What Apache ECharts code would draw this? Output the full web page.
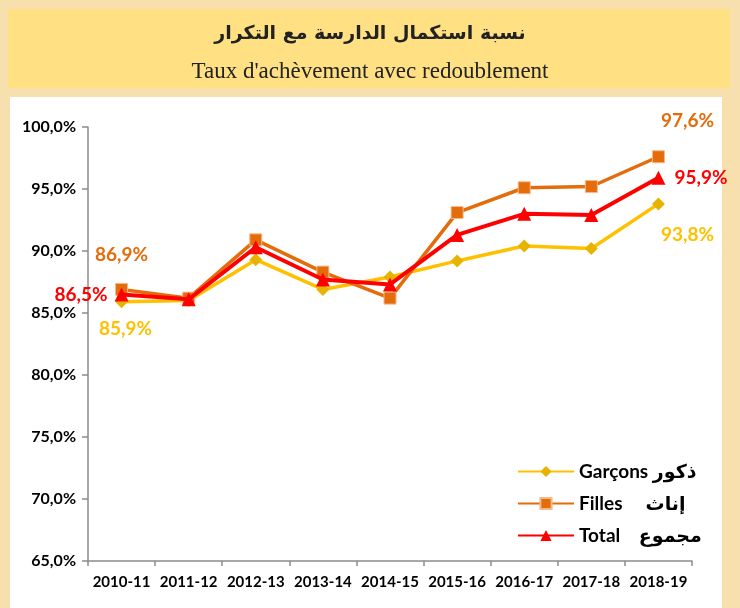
<!DOCTYPE html>
<html>
<head>
<meta charset="utf-8">
<title>Taux d'achèvement avec redoublement</title>
<script src="https://cdn.jsdelivr.net/npm/echarts@6/dist/echarts.min.js"></script>
<style>
  html, body { margin: 0; padding: 0; }
</style>
</head>
<body>
<div id="main" style="width:740px;height:608px;"></div>
<script type="text/javascript">
var years = ['2010-11', '2011-12', '2012-13', '2013-14', '2014-15', '2015-16', '2016-17', '2017-18', '2018-19'];
var garcons = [85.9, 86.0, 89.3, 86.9, 87.9, 89.2, 90.4, 90.2, 93.8];
var filles = [86.9, 86.2, 90.9, 88.3, 86.2, 93.1, 95.1, 95.2, 97.6];
var total = [86.5, 86.1, 90.3, 87.7, 87.3, 91.3, 93.0, 92.9, 95.9];

var fmt = function (v) { return v.toFixed(1).replace('.', ',') + '%'; };
var font = 'Lato, "DejaVu Sans", sans-serif';

// label only first and last point
function withLabels(arr, color, first, last) {
    return arr.map(function (v, i) {
        if (i === 0) return { value: v, label: Object.assign({ show: true, color: color }, first) };
        if (i === arr.length - 1) return { value: v, label: Object.assign({ show: true, color: color }, last) };
        return v;
    });
}

var chart = echarts.init(document.getElementById('main'));
var labelStyle = { fontSize: 19, fontWeight: 'bold', fontFamily: font, formatter: function (p) { return fmt(p.value); } };
var option = {
    backgroundColor: '#f7dfae',
    animation: false,
    graphic: [
        { type: 'rect', shape: { x: 8, y: 9, width: 722, height: 79 }, style: { fill: '#ffe083' } },
        { type: 'rect', shape: { x: 10, y: 97, width: 712, height: 511 }, style: { fill: '#ffffff' } }
    ],
    title: [
        { text: 'نسبة استكمال الدارسة مع التكرار', left: 'center', top: 20,
          textStyle: { fontSize: 19, fontWeight: 'bold', color: '#222', fontFamily: '"DejaVu Sans", sans-serif' } },
        { text: "Taux d'achèvement avec redoublement", left: 'center', top: 55,
          textStyle: { fontSize: 23, fontWeight: 'normal', color: '#222', fontFamily: '"Liberation Serif", serif' } }
    ],
    legend: {
        orient: 'vertical',
        left: 512,
        top: 457,
        itemWidth: 56,
        itemHeight: 14,
        itemGap: 13,
        textStyle: { fontSize: 19, fontWeight: 'bold', color: '#000', fontFamily: font },
        data: ['Garçons ذكور', 'Filles     إناث', 'Total    مجموع']
    },
    grid: { left: 88, right: 48, top: 127, bottom: 47 },
    xAxis: {
        type: 'category',
        data: years,
        boundaryGap: true,
        axisLine: { lineStyle: { color: '#8c8c8c', width: 1.5 } },
        axisTick: { show: true, alignWithLabel: false, length: 5, lineStyle: { color: '#8c8c8c', width: 1.5 } },
        axisLabel: { color: '#000', fontSize: 15, fontWeight: 'bold', fontFamily: font, margin: 14, interval: 0 }
    },
    yAxis: {
        type: 'value',
        min: 65,
        max: 100,
        interval: 5,
        splitLine: { show: false },
        axisLine: { show: true, lineStyle: { color: '#8c8c8c', width: 1.5 } },
        axisTick: { show: true, length: 6, lineStyle: { color: '#8c8c8c', width: 1.5 } },
        axisLabel: { color: '#000', fontSize: 16, fontWeight: 'bold', fontFamily: font, margin: 12, formatter: fmt }
    },
    series: [
        {
            name: 'Garçons ذكور',
            type: 'line',
            data: withLabels(garcons, '#ffc000',
                { position: 'bottom', distance: 11, offset: [4, 0] },
                { position: 'bottom', distance: 11, offset: [29, 4] }),
            symbol: 'diamond',
            symbolSize: 13,
            lineStyle: { color: '#ffc000', width: 3.5 },
            itemStyle: { color: '#e6b400' },
            label: labelStyle,
            z: 2
        },
        {
            name: 'Filles     إناث',
            type: 'line',
            data: withLabels(filles, '#e46c0a',
                { position: 'top', distance: 19 },
                { position: 'top', distance: 12, offset: [29, -8] }),
            symbol: 'rect',
            symbolSize: 12,
            lineStyle: { color: '#e46c0a', width: 3.5 },
            itemStyle: { color: '#e46c0a', borderColor: '#f6b98a', borderWidth: 1 },
            label: labelStyle,
            z: 3
        },
        {
            name: 'Total    مجموع',
            type: 'line',
            data: withLabels(total, '#ff0000',
                { position: 'left', distance: 7 },
                { position: 'right', distance: 9 }),
            symbol: 'triangle',
            symbolSize: 14,
            lineStyle: { color: '#ff0000', width: 4 },
            itemStyle: { color: '#ff0000' },
            label: labelStyle,
            z: 4
        }
    ]
};
chart.setOption(option);
</script>
</body>
</html>
